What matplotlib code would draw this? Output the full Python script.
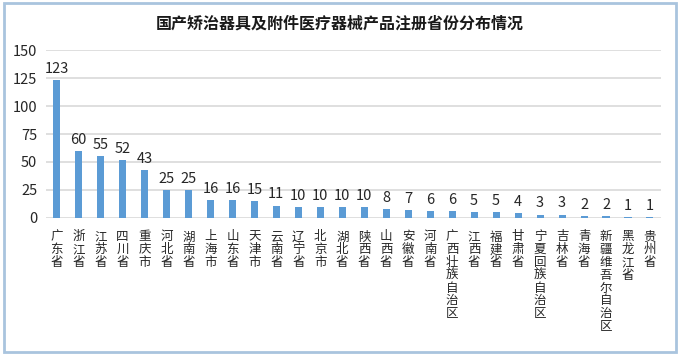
import matplotlib
matplotlib.use("Agg")
import matplotlib.pyplot as plt
from matplotlib.patches import Rectangle

plt.rcParams['font.family'] = ['Noto Sans CJK SC', 'DejaVu Sans']

title = "国产矫治器具及附件医疗器械产品注册省份分布情况"
categories = ["广东省", "浙江省", "江苏省", "四川省", "重庆市", "河北省", "湖南省",
              "上海市", "山东省", "天津市", "云南省", "辽宁省", "北京市", "湖北省",
              "陕西省", "山西省", "安徽省", "河南省", "广西壮族自治区", "江西省",
              "福建省", "甘肃省", "宁夏回族自治区", "吉林省", "青海省",
              "新疆维吾尔自治区", "黑龙江省", "贵州省"]
values = [123, 60, 55, 52, 43, 25, 25, 16, 16, 15, 11, 10, 10, 10, 10, 8, 7, 6, 6,
          5, 5, 4, 3, 3, 2, 2, 1, 1]
yticks = [0, 25, 50, 75, 100, 125, 150]

fig = plt.figure(figsize=(6.8, 3.55), dpi=100)
ax = fig.add_axes([0.067, 0.386, 0.905, 0.473])

x = list(range(len(categories)))
bars = ax.bar(x, values, width=0.32, color="#5B9BD5", zorder=3)
for xi, v in zip(x, values):
    ax.annotate(str(v), (xi, v), xytext=(0, 3), textcoords="offset points",
                ha="center", va="bottom", fontsize=10.5, color="#262626")

ax.set_xlim(-0.5, len(categories) - 0.5)
ax.set_ylim(0, 150)
ax.set_yticks(yticks)
ax.tick_params(axis="y", length=0, labelsize=10.5, colors="#262626", pad=6)
ax.yaxis.grid(True, color="#D9D9D9", linewidth=1.2, zorder=0)
for s in ax.spines.values():
    s.set_visible(False)

ax.set_xticks(x)
ax.set_xticklabels(["\n".join(c) for c in categories], fontsize=9,
                   linespacing=0.98, va="top", color="#262626")
ax.tick_params(axis="x", length=0, pad=9)

fig.text(0.5, 0.935, title, ha="center", va="center", fontsize=11.5,
         fontweight="bold", color="#1a1a1a")

fig.patches.append(Rectangle((0.006, 0.008), 0.988, 0.984, transform=fig.transFigure,
                             fill=False, edgecolor="#A9C4DE", linewidth=2))

fig.savefig("out.png", dpi=100)
